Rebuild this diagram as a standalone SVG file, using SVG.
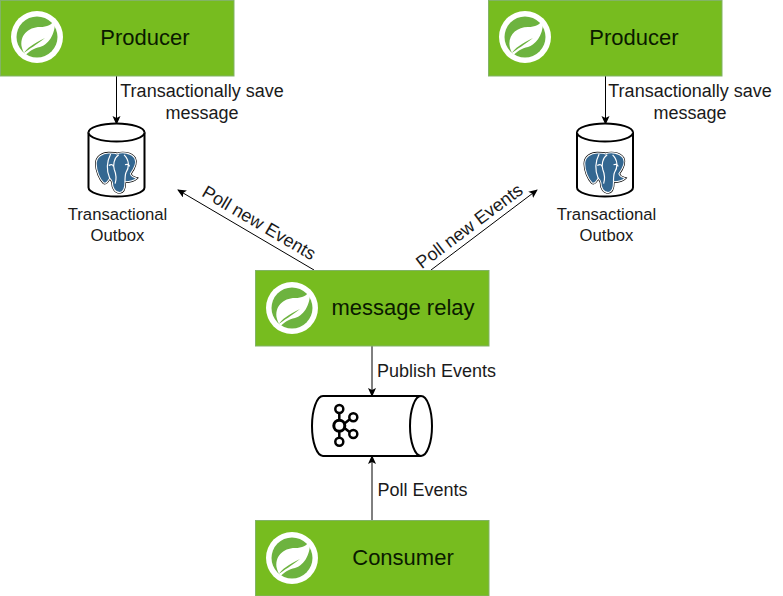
<svg xmlns="http://www.w3.org/2000/svg" xmlns:xlink="http://www.w3.org/1999/xlink" width="783" height="596" viewBox="0 0 783 596">
<style>
text{font-family:"Liberation Sans",Arial,sans-serif;fill:#1a1a1a}
.box{fill:#77bc1f;stroke:#82b366;stroke-width:1}
.t{font-size:22px;text-anchor:middle;fill:#0a1a00}
.l{font-size:18px;text-anchor:middle}
.c{font-size:16.700px;text-anchor:middle}
.e{fill:none;stroke:#000;stroke-width:1}
.s{fill:#fff;stroke:#000;stroke-width:2}
</style>
<defs>
<marker id="a" markerWidth="10" markerHeight="10" refX="8" refY="4" orient="auto" markerUnits="userSpaceOnUse"><path d="M0 0L9 4L0 8L2 4Z" fill="#000"/></marker>
<g id="spring">
<circle r="26" fill="#fff"/>
<circle r="20.5" fill="#6db33f"/>
<path d="M18 -18C15 -12 10 -10 3 -10C-9 -10 -18 -1 -15 11C-14 15 -12 17 -11 18C-9 15 -3 11 3 10C10 8 19 -1 18 -18ZM-13 16C-11 12 -3 6 8 1C-1 8 -8 12 -13 16Z" fill="#fff" fill-rule="evenodd"/>
</g>
<g id="pg">
<path d="M-8 -20C-15 -20 -22 -16 -22 -8C-22 0 -18 9 -14 13C-11 15 -9 11 -7 8C-5 10 -4 11 -4 13C-4 19 -1 24 4 24C9 24 10 19 10 12C13 12 19 12 23 8C20 7 17 7 16 3C21 -4 23 -10 21 -14C17 -21 6 -21 1 -19C-1 -20 -5 -20 -8 -20Z" fill="#336791" stroke="#000" stroke-width="2.600"/>
<path d="M-8 -20C-15 -20 -22 -16 -22 -8C-22 0 -18 9 -14 13C-11 15 -9 11 -7 8C-5 10 -4 11 -4 13C-4 19 -1 24 4 24C9 24 10 19 10 12C13 12 19 12 23 8C20 7 17 7 16 3C21 -4 23 -10 21 -14C17 -21 6 -21 1 -19C-1 -20 -5 -20 -8 -20Z" fill="#336791" stroke="#fff" stroke-width="1.200"/>
<path d="M-6 -19C-11 -9 -10 1 -7 8M3 -18C-3 -14 -3 -6 -2 -2C0 3 1 8 -1 14M9 -18C15 -12 15 -4 11 2C10 5 10 8 10 12M-8 -6C-5 -8 -3 -7 -3 -5M10 -7C13 -8 15 -7 15 -5" fill="none" stroke="#fff" stroke-width="1.300"/>
</g>
<g id="db">
<path class="s" d="M-28 -27.500V27.500A28 9 0 0 0 28 27.500V-27.500A28 9 0 0 0 -28 -27.500Z"/>
<path class="s" fill="none" d="M-28 -27.500A28 9 0 0 0 28 -27.500"/>
<use xlink:href="#pg" transform="translate(-0.500 11) scale(0.900)"/>
</g>
</defs>
<g id="connectors">
<path class="e" d="M116.500 76V124" marker-end="url(#a)"/>
<path class="e" d="M605.500 76V124" marker-end="url(#a)"/>
<path class="e" d="M314 270L178 190" marker-end="url(#a)"/>
<path class="e" d="M431 270L537 190" marker-end="url(#a)"/>
<path class="e" d="M372 346V396" marker-end="url(#a)"/>
<path class="e" d="M372 520V456" marker-end="url(#a)"/>
<text class="l" x="202" y="97">Transactionally save</text>
<text class="l" x="202" y="119">message</text>
<text class="l" x="690" y="97">Transactionally save</text>
<text class="l" x="690" y="119">message</text>
<text class="l" transform="translate(256 228) rotate(30.500)">Poll new Events</text>
<text class="l" transform="translate(473 231) rotate(-37)">Poll new Events</text>
<text class="l" x="436.500" y="377">Publish Events</text>
<text class="l" x="422.500" y="496">Poll Events</text>
</g>
<g id="producer-1"><rect class="box" x="0.500" y="0.500" width="233.500" height="75.500"/><use xlink:href="#spring" x="37" y="37"/><text class="t" x="145" y="45">Producer</text></g>
<g id="producer-2"><rect class="box" x="488.500" y="0.500" width="233.500" height="75.500"/><use xlink:href="#spring" x="525" y="37"/><text class="t" x="634" y="45">Producer</text></g>
<g id="outbox-1"><use xlink:href="#db" x="116.500" y="160"/><text class="c" x="117.500" y="220">Transactional</text><text class="c" x="117.500" y="241">Outbox</text></g>
<g id="outbox-2"><use xlink:href="#db" x="605" y="160"/><text class="c" x="606.500" y="220">Transactional</text><text class="c" x="606.500" y="241">Outbox</text></g>
<g id="relay"><rect class="box" x="255.500" y="270.500" width="233.500" height="75.500"/><use xlink:href="#spring" x="292" y="308"/><text class="t" x="403" y="315">message relay</text></g>
<g id="kafka">
<path class="s" d="M323 396H421A11 30 0 0 1 421 456H323A11 30 0 0 1 323 396Z"/>
<path class="s" fill="none" d="M421 396A11 30 0 0 0 421 456"/>
<g fill="none" stroke="#000" stroke-width="2.500"><circle cx="339.300" cy="409" r="4"/><circle cx="339.300" cy="441.700" r="4"/><circle cx="353.300" cy="417.300" r="4"/><circle cx="353.300" cy="434" r="4"/><circle cx="339.300" cy="425.700" r="5.500" stroke-width="3"/><path d="M339.300 413V420M339.300 431.500V437.700M344.500 423.500L349.500 419.500M344.500 428L349.500 432"/></g>
</g>
<g id="consumer"><rect class="box" x="255.500" y="520.500" width="233.500" height="75.500"/><use xlink:href="#spring" x="292" y="558"/><text class="t" x="403" y="565">Consumer</text></g>
</svg>
